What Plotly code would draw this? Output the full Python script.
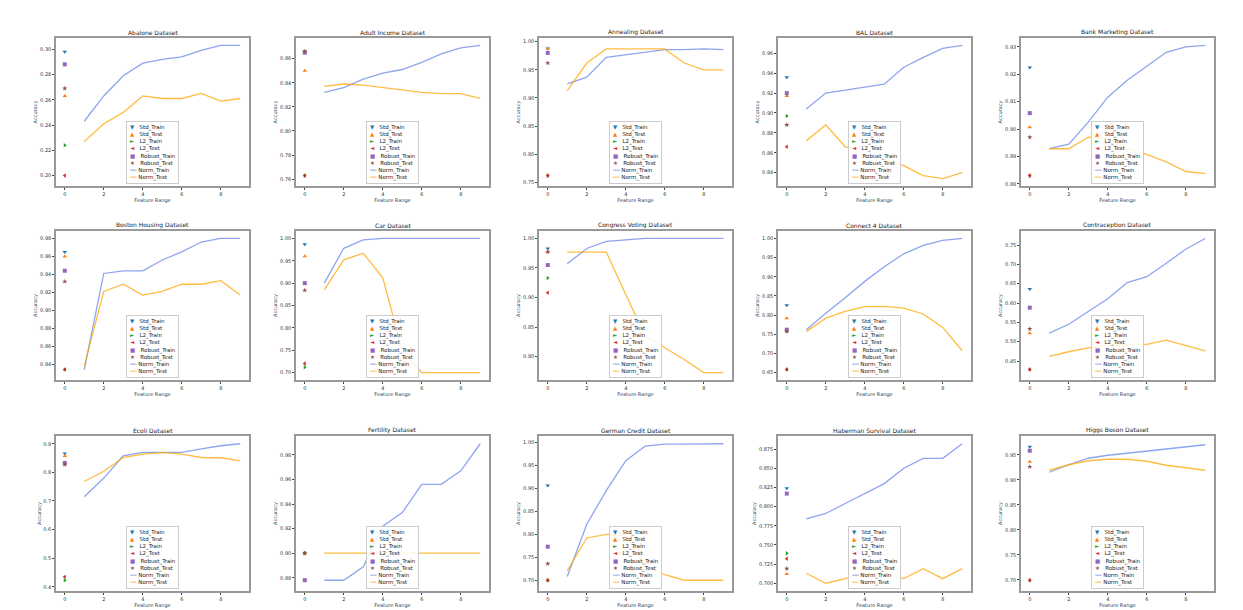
import plotly.graph_objects as go

names = ["Abalone", "Adult Income", "Annealing", "BAL", "Bank Marketing",
         "Boston Housing", "Car", "Congress Voting", "Connect 4", "Contraception",
         "Ecoli", "Fertility", "German Credit", "Haberman Survival", "Higgs Boson"]

# point results at feature range 0: Std_Train, Std_Test, L2_Train, L2_Test, Robust_Train, Robust_Test
std_train = [.298, .866, .988, .936, .9224, .965, .987, .983, .826, .636, .866, .878, .906, .824, .966]
std_test = [.263, .850, .988, .917, .9006, .960, .960, .978, .792, .522, .857, .900, .700, .712, .936]
l2_train = [.224, .763, .762, .897, .883, .834, .712, .933, .658, .428, .423, .900, .700, .739, .699]
l2_test = [.200, .763, .762, .866, .883, .834, .720, .908, .658, .428, .435, .900, .700, .732, .699]
robust_train = [.288, .865, .980, .920, .9058, .944, .900, .955, .762, .588, .833, .878, .773, .817, .958]
robust_test = [.269, .866, .962, .888, .897, .932, .884, .977, .757, .533, .827, .900, .736, .719, .926]

feature_range = [1, 2, 3, 4, 5, 6, 7, 8, 9]
norm_train = [
    [.243, .263, .279, .289, .292, .294, .299, .303, .303],
    [.832, .836, .843, .848, .851, .857, .864, .869, .871],
    [.925, .937, .972, .977, .982, .986, .986, .987, .986],
    [.904, .920, .923, .926, .929, .946, .956, .965, .968],
    [.8928, .8945, .9025, .9116, .9178, .923, .928, .930, .9305],
    [.834, .941, .944, .944, .956, .965, .976, .980, .980],
    [.900, .978, .997, 1.0, 1.0, 1.0, 1.0, 1.0, 1.0],
    [.957, .983, .995, .998, 1.0, 1.0, 1.0, 1.0, 1.0],
    [.762, .805, .845, .888, .926, .960, .982, .995, 1.0],
    [.522, .545, .578, .611, .653, .668, .703, .739, .767],
    [.715, .780, .858, .870, .870, .870, .882, .893, .900],
    [.878, .878, .889, .922, .933, .956, .956, .967, .989],
    [.708, .822, .895, .960, .992, .996, .996, .997, .997],
    [.784, .791, .804, .817, .830, .850, .863, .863, .882],
    [.915, .930, .943, .949, .953, .957, .961, .965, .970],
]
norm_test = [
    [.227, .241, .250, .263, .261, .261, .265, .259, .261],
    [.837, .839, .838, .836, .834, .832, .831, .831, .827],
    [.913, .962, .987, .987, .987, .987, .962, .950, .950],
    [.872, .888, .866, .863, .853, .847, .837, .834, .840],
    [.8928, .8928, .897, .8965, .8928, .8907, .888, .8845, .8838],
    [.838, .921, .929, .917, .921, .929, .929, .933, .917],
    [.885, .952, .967, .912, .750, .700, .700, .700, .700],
    [.977, .977, .977, .905, .835, .815, .795, .773, .773],
    [.757, .792, .810, .822, .823, .818, .803, .768, .707],
    [.462, .474, .484, .490, .493, .493, .504, .491, .476],
    [.768, .804, .852, .864, .869, .864, .852, .851, .840],
    [.900, .900, .900, .900, .900, .900, .900, .900, .900],
    [.721, .792, .800, .797, .730, .712, .700, .700, .700],
    [.713, .700, .706, .713, .713, .706, .719, .706, .719],
    [.919, .930, .938, .941, .941, .937, .929, .924, .919],
]
ytick_fmt = [".2f"] * 10 + [".1f", ".2f", ".2f", ".3f", ".2f"]
ytick_step = [.02, .02, .05, .02, .01, .02, .05, .05, .05, .05, .1, .02, .05, .025, .05]

W, H = 1243, 610
col_px = [(48, 241), (288, 481), (531, 724), (770, 963), (1013, 1206)]
row_px = [(30, 178), (223, 372), (428, 583)]

TRAIN_C = "rgba(65,105,225,0.6)"
TEST_C = "rgba(255,165,0,0.75)"
point_series = [
    ("Std_Train", std_train, "#1f77b4", "triangle-down", "▼"),
    ("Std_Test", std_test, "#ff7f0e", "triangle-up", "▲"),
    ("L2_Train", l2_train, "#2ca02c", "triangle-right", "►"),
    ("L2_Test", l2_test, "#d62728", "triangle-left", "◄"),
    ("Robust_Train", robust_train, "#9467bd", "square", "■"),
    ("Robust_Test", robust_test, "#8c564b", "star", "★"),
]

# legend text block (drawn as an annotation so it can be as compact as the original)
legend_lines = [f"<span style='color:{c}'>{g}</span>   {lab}" for lab, _, c, _, g in point_series]
legend_lines += [f"<span style='color:{TRAIN_C}'>━━</span> Norm_Train",
                 f"<span style='color:{TEST_C}'>━━</span> Norm_Test"]
legend_text = "<br>".join(legend_lines)

fig = go.Figure()
layout = {}
for i, name in enumerate(names):
    r, c = divmod(i, 5)
    x0, x1 = col_px[c]
    y0, y1 = row_px[r]
    dom_x = [x0 / W, x1 / W]
    dom_y = [1 - y1 / H, 1 - y0 / H]
    k = "" if i == 0 else str(i + 1)
    for label, vals, color, sym, _ in point_series:
        fig.add_trace(go.Scatter(x=[0], y=[vals[i]], mode="markers", name=label,
                                 marker=dict(color=color, symbol=sym, size=4),
                                 xaxis="x" + k, yaxis="y" + k, showlegend=False))
    fig.add_trace(go.Scatter(x=feature_range, y=norm_train[i], mode="lines", name="Norm_Train",
                             line=dict(color=TRAIN_C, width=1.3),
                             xaxis="x" + k, yaxis="y" + k, showlegend=False))
    fig.add_trace(go.Scatter(x=feature_range, y=norm_test[i], mode="lines", name="Norm_Test",
                             line=dict(color=TEST_C, width=1.3),
                             xaxis="x" + k, yaxis="y" + k, showlegend=False))
    ax = dict(showline=True, mirror=True, linecolor="#999", linewidth=1.5, showgrid=False,
              zeroline=False, ticks="outside", ticklen=2, tickfont=dict(size=5, color="#333"))
    layout["xaxis" + k] = dict(ax, domain=dom_x, anchor="y" + k, range=[-0.45, 9.45],
                               tickvals=[0, 2, 4, 6, 8],
                               title=dict(text="Feature Range", font=dict(size=5), standoff=2))
    layout["yaxis" + k] = dict(ax, domain=dom_y, anchor="x" + k, dtick=ytick_step[i],
                               tickformat=ytick_fmt[i],
                               title=dict(text="Accuracy", font=dict(size=5), standoff=2))
    fig.add_annotation(text=legend_text, xref="paper", yref="paper",
                       x=(x0 + x1) / 2 / W, y=1 - y1 / H + 0.004, xanchor="center", yanchor="bottom",
                       align="left", showarrow=False, font=dict(size=5.5, color="#222"),
                       bgcolor="rgba(255,255,255,0.85)", bordercolor="#ccc", borderwidth=1, borderpad=2)
    fig.add_annotation(text=name + " Dataset", xref="paper", yref="paper",
                       x=(x0 + x1) / 2 / W, y=1 - y0 / H, xanchor="center", yanchor="bottom",
                       showarrow=False, font=dict(size=6, color="#222"))

fig.update_layout(width=W, height=H, margin=dict(l=0, r=0, t=0, b=0),
                  plot_bgcolor="white", paper_bgcolor="white",
                  font=dict(family="DejaVu Sans"), **layout)
fig.write_html("out.html")
